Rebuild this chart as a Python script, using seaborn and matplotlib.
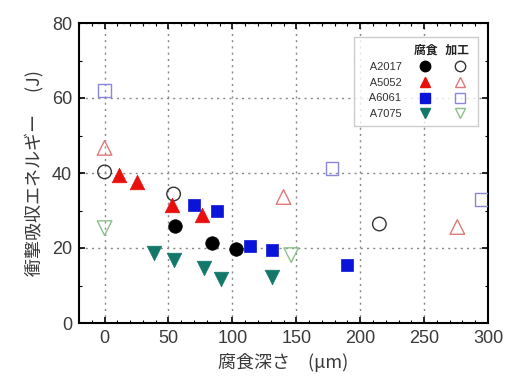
import matplotlib
matplotlib.use("Agg")
import matplotlib.pyplot as plt
import seaborn as sns
import pandas as pd
from matplotlib.lines import Line2D
from matplotlib.ticker import MultipleLocator

# ---- data ----
alloys = ["A2017", "A5052", "A6061", "A7075"]
a2017_corr_x = [55, 84, 103]
a2017_corr_y = [26.0, 21.3, 19.7]
a2017_mach_x = [0, 54, 215]
a2017_mach_y = [40.3, 34.4, 26.4]
a5052_corr_x = [11, 25, 53, 76]
a5052_corr_y = [39.5, 37.5, 31.5, 28.8]
a5052_mach_x = [0, 140, 276]
a5052_mach_y = [46.7, 33.6, 25.6]
a6061_corr_x = [70, 88, 114, 131, 190]
a6061_corr_y = [31.5, 30.0, 20.5, 19.5, 15.5]
a6061_mach_x = [0, 178, 295]
a6061_mach_y = [62.0, 41.3, 33.0]
a7075_corr_x = [39, 54, 78, 91, 131]
a7075_corr_y = [18.7, 16.8, 14.7, 11.7, 12.3]
a7075_mach_x = [0, 146]
a7075_mach_y = [25.3, 18.1]

x_ticks = [0, 50, 100, 150, 200, 250, 300]
y_ticks = [0, 20, 40, 60, 80]

series = {
    ("A2017", "腐食"): (a2017_corr_x, a2017_corr_y),
    ("A2017", "加工"): (a2017_mach_x, a2017_mach_y),
    ("A5052", "腐食"): (a5052_corr_x, a5052_corr_y),
    ("A5052", "加工"): (a5052_mach_x, a5052_mach_y),
    ("A6061", "腐食"): (a6061_corr_x, a6061_corr_y),
    ("A6061", "加工"): (a6061_mach_x, a6061_mach_y),
    ("A7075", "腐食"): (a7075_corr_x, a7075_corr_y),
    ("A7075", "加工"): (a7075_mach_x, a7075_mach_y),
}
rows = []
for (al, kind), (xs, ys) in series.items():
    for xv, yv in zip(xs, ys):
        rows.append({"alloy": al, "kind": kind, "depth": xv, "energy": yv})
df = pd.DataFrame(rows)

# ---- styles ----
markers = {"A2017": "o", "A5052": "^", "A6061": "s", "A7075": "v"}
fill_colors = {"A2017": "#000000", "A5052": "#e8100c", "A6061": "#0a14d8", "A7075": "#13786a"}
open_colors = {"A2017": "#333333", "A5052": "#e07a78", "A6061": "#8a86dc", "A7075": "#8cc08a"}
sizes = {"A2017": 95, "A5052": 110, "A6061": 85, "A7075": 110}

sns.set_theme(style="ticks")
plt.rcParams["font.family"] = ["Liberation Sans", "Noto Sans CJK JP", "DejaVu Sans"]
plt.rcParams["axes.unicode_minus"] = False

fig = plt.figure(figsize=(5.10, 3.76), dpi=100)
ax = fig.add_axes([79 / 510, 1 - 323 / 376, 409 / 510, 300 / 376])

# open (machined) first
for al in alloys:
    sub = df[(df.alloy == al) & (df.kind == "加工")]
    sns.scatterplot(data=sub, x="depth", y="energy", ax=ax, marker=markers[al],
                    s=sizes[al], facecolor="none", edgecolor=open_colors[al],
                    linewidth=1.0, legend=False, zorder=3)
for al in alloys:
    sub = df[(df.alloy == al) & (df.kind == "腐食")]
    sns.scatterplot(data=sub, x="depth", y="energy", ax=ax, marker=markers[al],
                    s=sizes[al], facecolor=fill_colors[al], edgecolor=fill_colors[al],
                    linewidth=0.5, legend=False, zorder=4)

ax.set_xlim(-20, 300)
ax.set_ylim(0, 80)
ax.set_xticks(x_ticks)
ax.set_yticks(y_ticks)
ax.xaxis.set_minor_locator(MultipleLocator(10))
ax.yaxis.set_minor_locator(MultipleLocator(10))
ax.tick_params(which="both", direction="in", top=True, right=True, colors="black",
               labelcolor="#3a3a3a")
ax.tick_params(which="major", length=4, width=1.2, labelsize=13, pad=5)
ax.tick_params(which="minor", length=2, width=0.8)
for sp in ax.spines.values():
    sp.set_linewidth(1.5)
    sp.set_color("black")
ax.grid(True, which="major", linestyle=(0, (1.5, 3)), color="#888888", linewidth=1.0)
ax.set_axisbelow(True)

ax.set_xlabel("腐食深さ　(μm)", fontsize=13, color="#3a3a3a",
              family=["Noto Sans CJK JP", "DejaVu Sans"], labelpad=4)
ax.set_ylabel("衝撃吸収エネルギー　 (J)", fontsize=13, color="#3a3a3a",
              family=["Noto Sans CJK JP", "DejaVu Sans"], labelpad=6)

# legend: label | filled | open
handles = []
labels = []
for al in alloys:
    handles.append(Line2D([], [], linestyle="none", marker=markers[al], markersize=7.5,
                          markerfacecolor=fill_colors[al], markeredgecolor=fill_colors[al]))
    labels.append("   " + al + "  ")
for al in alloys:
    handles.append(Line2D([], [], linestyle="none", marker=markers[al], markersize=7.5,
                          markerfacecolor="none", markeredgecolor=open_colors[al],
                          markeredgewidth=1.0))
    labels.append("")
leg = ax.legend(handles, labels, ncol=2, markerfirst=False, title="腐食   加工 ",
                loc="upper right", bbox_to_anchor=(0.976, 0.953), borderaxespad=0,
                frameon=True, fancybox=False, edgecolor="#c0c0c0", fontsize=8,
                title_fontproperties={"family": "Noto Sans CJK JP", "size": 8.5, "weight": "bold"},
                alignment="right", handletextpad=0.6, columnspacing=0.55,
                labelspacing=0.5, borderpad=0.6, handlelength=2.0)
leg.get_frame().set_linewidth(1.0)
for t in leg.get_texts():
    t.set_color("#333333")
leg.get_title().set_color("#222222")

fig.savefig("out.png", dpi=100)
